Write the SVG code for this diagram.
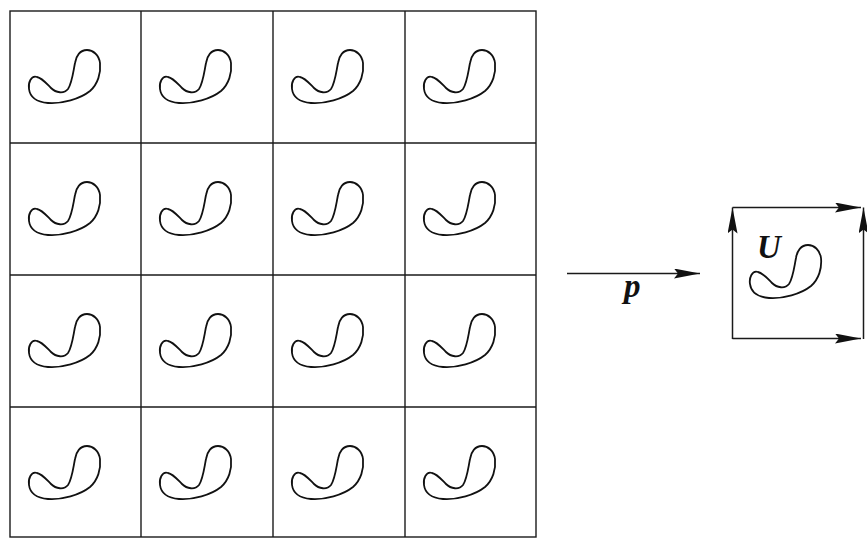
<svg xmlns="http://www.w3.org/2000/svg" xmlns:xlink="http://www.w3.org/1999/xlink" width="867" height="538" viewBox="0 0 867 538">
<style>
.grid{fill:none;stroke:#1a1a1a;stroke-width:1.4}
.blob{fill:none;stroke:#111;stroke-width:1.8;stroke-linejoin:round}
.edge{fill:none;stroke:#1a1a1a;stroke-width:1.5}
.lbl{font-family:"Liberation Serif",serif;font-style:italic;font-weight:bold;font-size:33px;fill:#111}
</style>
<defs>
<marker id="ah" markerUnits="userSpaceOnUse" markerWidth="30" markerHeight="12" refX="26" refY="5" orient="auto">
<path d="M0,0 L26,5 L0,10 L4,5 Z" fill="#111"/>
</marker>
<path id="b" class="blob" d="M27,66 C21,64 18,72 19,78 C20,86 27,91 38,92 C52,93 70,88 80,80 C88,73 91,62 90,52 C89,44 83,39 77,39 C70,39 66,45 65,52 C63,62 62,72 58,78 C54,83 46,82 41,77 C36,72 32,67 27,66 Z"/>
</defs>
<g id="grid">
<rect class="grid" x="10" y="11" width="526" height="526"/>
<line class="grid" x1="141" y1="11" x2="141" y2="537"/>
<line class="grid" x1="273" y1="11" x2="273" y2="537"/>
<line class="grid" x1="405" y1="11" x2="405" y2="537"/>
<line class="grid" x1="10" y1="143" x2="536" y2="143"/>
<line class="grid" x1="10" y1="275" x2="536" y2="275"/>
<line class="grid" x1="10" y1="407" x2="536" y2="407"/>
</g>
<g id="cells">
<use xlink:href="#b" x="10" y="11"/><use xlink:href="#b" x="141" y="11"/><use xlink:href="#b" x="273" y="11"/><use xlink:href="#b" x="405" y="11"/>
<use xlink:href="#b" x="10" y="143"/><use xlink:href="#b" x="141" y="143"/><use xlink:href="#b" x="273" y="143"/><use xlink:href="#b" x="405" y="143"/>
<use xlink:href="#b" x="10" y="275"/><use xlink:href="#b" x="141" y="275"/><use xlink:href="#b" x="273" y="275"/><use xlink:href="#b" x="405" y="275"/>
<use xlink:href="#b" x="10" y="407"/><use xlink:href="#b" x="141" y="407"/><use xlink:href="#b" x="273" y="407"/><use xlink:href="#b" x="405" y="407"/>
</g>
<g id="quotient">
<use xlink:href="#b" x="731" y="206"/>
<text class="lbl" x="757" y="258">U</text>
</g>
<g id="connectors">
<line class="edge" x1="567" y1="273.5" x2="700" y2="273.5" marker-end="url(#ah)"/>
<line class="edge" x1="732.5" y1="339" x2="732.5" y2="207.5" marker-end="url(#ah)"/>
<line class="edge" x1="732.5" y1="207.5" x2="861" y2="207.5" marker-end="url(#ah)"/>
<line class="edge" x1="863.5" y1="339" x2="863.5" y2="207.5" marker-end="url(#ah)"/>
<line class="edge" x1="732.5" y1="338.5" x2="861" y2="338.5" marker-end="url(#ah)"/>
</g>
<text class="lbl" x="624" y="297">p</text>
</svg>
